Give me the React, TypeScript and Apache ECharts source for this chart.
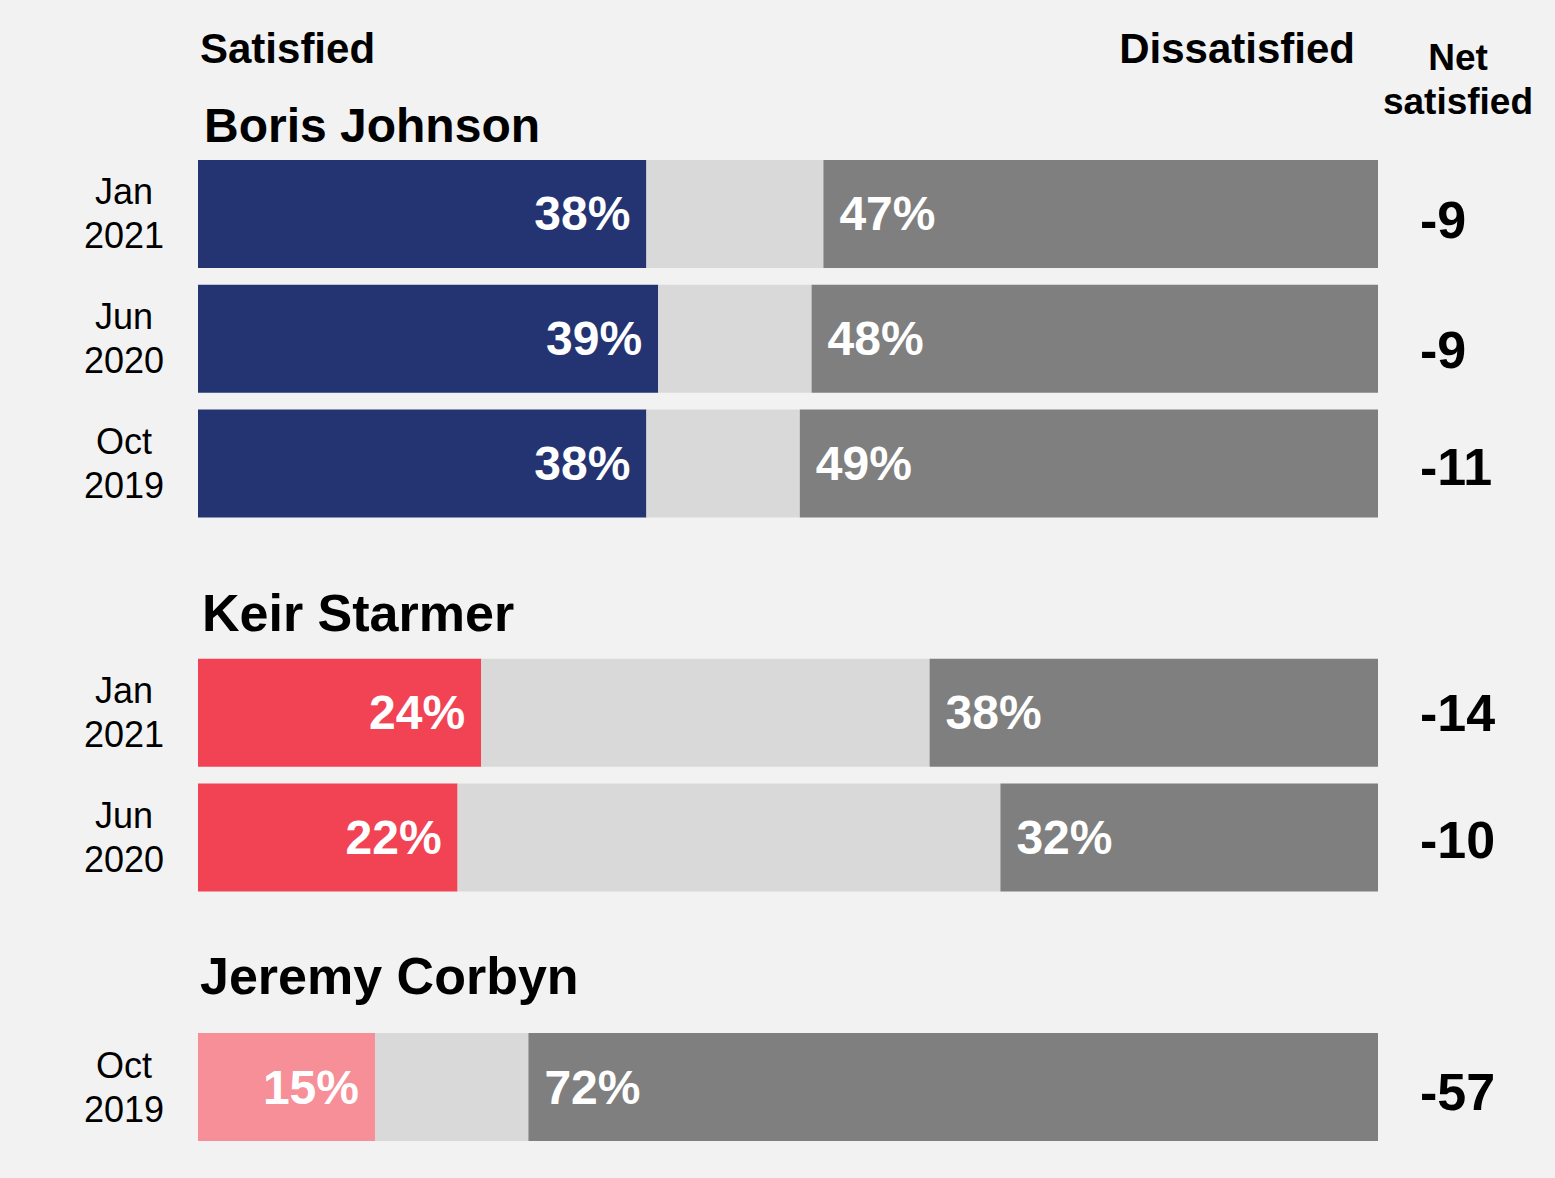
import React, { useEffect, useRef } from "react";
import * as echarts from "echarts";

// Rows (top to bottom); gap rows hold the leader titles
const categories = [
  "Johnson Jan 2021",
  "Johnson Jun 2020",
  "Johnson Oct 2019",
  "gap1",
  "Starmer Jan 2021",
  "Starmer Jun 2020",
  "gap2",
  "Corbyn Oct 2019",
];
const dateLabels = ["Jan\n2021", "Jun\n2020", "Oct\n2019", "", "Jan\n2021", "Jun\n2020", "", "Oct\n2019"];
const leaders = ["Johnson", "Johnson", "Johnson", "", "Starmer", "Starmer", "", "Corbyn"];
const satisfied: (number | string)[] = [38, 39, 38, "-", 24, 22, "-", 15];
const neither: (number | string)[] = [15, 13, 13, "-", 38, 46, "-", 13];
const dissatisfied: (number | string)[] = [47, 48, 49, "-", 38, 32, "-", 72];
const netSatisfied = ["-9", "-9", "-11", "", "-14", "-10", "", "-57"];

const leaderColors: Record<string, string> = {
  Johnson: "#243473",
  Starmer: "#f24355",
  Corbyn: "#f78f98",
};

// small vertical nudges (px) of the net labels as seen in the reference
const netNudge = [6, 11, 4, 0, 0, 2, 0, 5];

const FONT = "'Liberation Sans', Arial, Helvetica, sans-serif";

export default function App() {
  const ref = useRef<HTMLDivElement>(null);

  useEffect(() => {
    if (!ref.current) return;
    const chart = echarts.init(ref.current, undefined, { renderer: "svg" });

    const netRich: Record<string, any> = {};
    netNudge.forEach((n, i) => {
      netRich["n" + i] = {
        fontSize: 52,
        fontWeight: "bold",
        fontFamily: FONT,
        color: "#000",
        padding: [n * 2, 0, 0, 0],
      };
    });

    const option: any = {
      animation: false,
      backgroundColor: "#f2f2f2",
      textStyle: { fontFamily: FONT },
      grid: { left: 198, right: 177, top: 151.6, bottom: 28.6, containLabel: false },
      xAxis: { type: "value", min: 0, max: 100, show: false },
      yAxis: [
        {
          type: "category",
          data: categories,
          inverse: true,
          axisLine: { show: false },
          axisTick: { show: false },
          splitLine: { show: false },
          axisLabel: {
            formatter: (_v: string, i: number) => dateLabels[i],
            align: "center",
            margin: 74,
            fontSize: 36,
            lineHeight: 44,
            color: "#000",
            fontFamily: FONT,
            interval: 0,
          },
        },
        {
          type: "category",
          data: categories,
          inverse: true,
          position: "right",
          axisLine: { show: false },
          axisTick: { show: false },
          splitLine: { show: false },
          axisLabel: {
            formatter: (_v: string, i: number) =>
              netSatisfied[i] ? `{n${i}|${netSatisfied[i]}}` : "",
            rich: netRich,
            align: "left",
            margin: 42,
            fontSize: 52,
            fontWeight: "bold",
            color: "#000",
            fontFamily: FONT,
            interval: 0,
          },
        },
      ],
      series: [
        {
          name: "Satisfied",
          type: "bar",
          stack: "total",
          barWidth: 108,
          data: satisfied.map((v, i) => ({
            value: v,
            itemStyle: { color: leaderColors[leaders[i]] || "#000" },
          })),
          label: {
            show: true,
            position: "insideRight",
            distance: 16,
            formatter: "{c}%",
            color: "#fff",
            fontSize: 48,
            fontWeight: "bold",
            fontFamily: FONT,
          },
        },
        {
          name: "Neither",
          type: "bar",
          stack: "total",
          barWidth: 108,
          data: neither,
          itemStyle: { color: "#d9d9d9" },
        },
        {
          name: "Dissatisfied",
          type: "bar",
          stack: "total",
          barWidth: 108,
          data: dissatisfied,
          itemStyle: { color: "#7f7f7f" },
          label: {
            show: true,
            position: "insideLeft",
            distance: 16,
            formatter: "{c}%",
            color: "#fff",
            fontSize: 48,
            fontWeight: "bold",
            fontFamily: FONT,
          },
        },
      ],
      graphic: [
        {
          type: "text",
          left: 200,
          top: 27,
          style: { text: "Satisfied", font: `bold 42px ${FONT}`, fill: "#000" },
        },
        {
          type: "text",
          right: 200,
          top: 27,
          style: { text: "Dissatisfied", font: `bold 42px ${FONT}`, fill: "#000" },
        },
        {
          type: "text",
          x: 1458,
          y: 79,
          style: {
            text: "Net\nsatisfied",
            font: `bold 37px ${FONT}`,
            lineHeight: 44,
            fill: "#000",
            align: "center",
            verticalAlign: "middle",
          },
        },
        {
          type: "text",
          x: 204,
          y: 125,
          style: { text: "Boris Johnson", font: `bold 48px ${FONT}`, fill: "#000", verticalAlign: "middle" },
        },
        {
          type: "text",
          x: 202,
          y: 613,
          style: { text: "Keir Starmer", font: `bold 52px ${FONT}`, fill: "#000", verticalAlign: "middle" },
        },
        {
          type: "text",
          x: 200,
          y: 976,
          style: { text: "Jeremy Corbyn", font: `bold 52px ${FONT}`, fill: "#000", verticalAlign: "middle" },
        },
      ],
    };

    chart.setOption(option);
    return () => chart.dispose();
  }, []);

  return (
    <div
      ref={ref}
      style={{ position: "absolute", left: 0, top: 0, width: 1555, height: 1178 }}
    />
  );
}
